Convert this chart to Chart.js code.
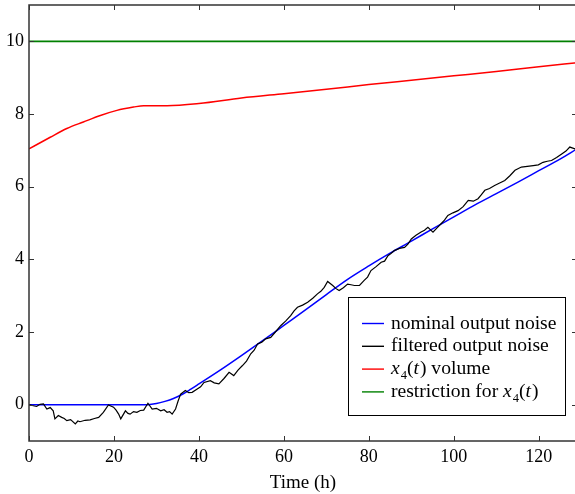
<!DOCTYPE html>
<html lang="en">
<head>
  <meta charset="UTF-8">
  <title>Output noise and volume x4(t)</title>
  <style>
    body { margin: 0; overflow: hidden; background: #fff; }
    .wrap { width: 577px; height: 494px; position: relative; }
  </style>
  <script src="https://cdn.jsdelivr.net/npm/chart.js@4.4.1/dist/chart.umd.min.js"></script>
</head>
<body>
  <div class="wrap"><canvas id="myChart"></canvas></div>
  <script>
    // axis ticks
    const xTicks = [0, 20, 40, 60, 80, 100, 120];
    const yTicks = [0, 2, 4, 6, 8, 10];

    // nominal output noise (blue)
    const tNominal = [0, 28, 30, 32, 34, 36, 38, 40, 45, 50, 55, 60, 65, 70, 75, 80, 85, 90, 95, 100, 105, 110, 115, 120, 125, 129];
    const vNominal = [0, 0, 0.03, 0.09, 0.17, 0.28, 0.42, 0.57, 0.95, 1.35, 1.76, 2.18, 2.6, 3.03, 3.45, 3.82, 4.17, 4.5, 4.84, 5.17, 5.5, 5.81, 6.12, 6.44, 6.76, 7.04];

    // filtered output noise (black)
    const tFiltered = [0, 1, 1.8, 2.6, 3.4, 4.2, 5.0, 5.7, 6.1, 6.9, 7.7, 8.3, 8.9, 9.8, 10.9, 11.5, 12, 13.2, 14.4, 15.4, 16.4, 17.5, 18.7, 19.9, 20.5, 21.1, 21.6, 22.7, 23.3, 23.8, 24.6, 25.4, 26.2, 27, 28, 29, 30, 31, 31.8, 32.5, 33.1, 33.7, 34.5, 35.1, 35.7, 36.8, 37.6, 38.4, 39.6, 40.4, 41.2, 42.7, 43.6, 44.7, 45.9, 47.1, 48.2, 49.2, 50.2, 51.2, 52.2, 53, 53.8, 54.8, 55.7, 56.9, 58, 59.3, 60.4, 61.6, 62.4, 63.2, 64.4, 65.6, 66.8, 67.9, 68.7, 69.5, 70.3, 71.5, 72.2, 73, 74, 75, 75.8, 76.6, 77.8, 78.9, 79.7, 80.5, 81.7, 82.9, 83.7, 84.5, 85.2, 86, 87.2, 88.4, 89.2, 90, 91.1, 92.3, 93.1, 93.9, 95.1, 96, 97, 97.8, 98.6, 99.8, 101, 102.2, 103.4, 104.6, 105.7, 106.5, 107.3, 108.4, 109.6, 110.8, 112, 113.2, 114.4, 115.9, 117.3, 118.7, 119.9, 121, 122, 123, 124.2, 125.4, 126.4, 127.3, 128.5, 129];
    const vFiltered = [0, -0.03, -0.05, 0.01, 0.02, -0.12, -0.08, -0.17, -0.39, -0.3, -0.35, -0.38, -0.44, -0.41, -0.53, -0.45, -0.47, -0.43, -0.42, -0.38, -0.35, -0.21, -0.01, -0.07, -0.15, -0.26, -0.39, -0.17, -0.24, -0.26, -0.19, -0.21, -0.16, -0.15, 0.04, -0.12, -0.1, -0.17, -0.14, -0.21, -0.19, -0.26, -0.12, 0.1, 0.29, 0.39, 0.33, 0.34, 0.43, 0.49, 0.61, 0.66, 0.6, 0.57, 0.72, 0.89, 0.8, 0.95, 1.07, 1.2, 1.4, 1.5, 1.67, 1.72, 1.81, 1.85, 2.0, 2.18, 2.3, 2.45, 2.58, 2.68, 2.74, 2.82, 2.93, 3.05, 3.12, 3.23, 3.39, 3.28, 3.2, 3.14, 3.22, 3.32, 3.3, 3.28, 3.28, 3.42, 3.51, 3.69, 3.8, 3.92, 3.95, 4.1, 4.16, 4.24, 4.3, 4.33, 4.42, 4.56, 4.66, 4.75, 4.8, 4.88, 4.75, 4.86, 4.98, 5.08, 5.21, 5.28, 5.34, 5.45, 5.62, 5.6, 5.67, 5.78, 5.9, 5.95, 6.03, 6.1, 6.17, 6.3, 6.45, 6.54, 6.56, 6.58, 6.6, 6.67, 6.7, 6.72, 6.8, 6.9, 6.98, 7.09, 7.04, 7.06];

    // x4(t) volume (red)
    const tVolume = [0, 5, 8.9, 12.8, 16.8, 20.7, 24.6, 27, 32.5, 40, 50, 60, 70, 80, 90, 100, 110, 120, 129];
    const vVolume = [7.04, 7.36, 7.6, 7.78, 7.96, 8.1, 8.19, 8.23, 8.23, 8.29, 8.44, 8.56, 8.68, 8.81, 8.93, 9.05, 9.17, 9.3, 9.41];

    // restriction for x4(t) (green)
    const tLimit = [0, 129];
    const vLimit = [10, 10];

    // legend label pieces: n = normal, i = italic, s = subscript
    const legendParts = [
      [['nominal output noise', 'n']],
      [['filtered output noise', 'n']],
      [['x', 'i'], ['4', 's'], ['(', 'n'], ['t', 'i'], [') volume', 'n']],
      [['restriction for ', 'n'], ['x', 'i'], ['4', 's'], ['(', 'n'], ['t', 'i'], [')', 'n']]
    ];

    const FONT = '"Liberation Serif", "Times New Roman", serif';
    const toXY = (ts, vs) => ts.map((t, i) => ({ x: t, y: vs[i] }));

    // frame with inward ticks and a boxed legend inside the plot
    const framePlugin = {
      id: 'framePlugin',
      afterDatasetsDraw(chart) {
        const { ctx, chartArea: a, scales: { x, y } } = chart;
        ctx.save();
        ctx.strokeStyle = '#333';
        ctx.lineWidth = 1.5;
        ctx.strokeRect(a.left, a.top, a.right - a.left, a.bottom - a.top);
        ctx.beginPath();
        xTicks.forEach(v => {
          const px = Math.round(x.getPixelForValue(v)) + 0.5;
          ctx.moveTo(px, a.bottom); ctx.lineTo(px, a.bottom - 5);
          ctx.moveTo(px, a.top); ctx.lineTo(px, a.top + 5);
        });
        yTicks.forEach(v => {
          const py = Math.round(y.getPixelForValue(v)) + 0.5;
          ctx.moveTo(a.left, py); ctx.lineTo(a.left + 5, py);
          ctx.moveTo(a.right, py); ctx.lineTo(a.right - 5, py);
        });
        ctx.lineWidth = 1;
        ctx.stroke();

        // legend box
        const bx = 348.5, by = 297.5, bw = 217, bh = 118;
        ctx.fillStyle = '#fff';
        ctx.fillRect(bx, by, bw, bh);
        ctx.strokeStyle = '#000';
        ctx.lineWidth = 1;
        ctx.strokeRect(bx, by, bw, bh);
        chart.data.datasets.forEach((ds, i) => {
          const cy = 323.5 + i * 22.8;
          ctx.strokeStyle = ds.borderColor;
          ctx.lineWidth = 1.4;
          ctx.beginPath();
          ctx.moveTo(362, cy); ctx.lineTo(384, cy);
          ctx.stroke();
          let tx = 391;
          ctx.fillStyle = '#000';
          ctx.textBaseline = 'alphabetic';
          legendParts[i].forEach(([txt, st]) => {
            let size = 19.6, dy = 5, style = '';
            if (st === 'i') style = 'italic ';
            if (st === 's') { size = 12.5; dy = 10; }
            ctx.font = style + size + 'px ' + FONT;
            ctx.fillText(txt, tx, cy + dy);
            tx += ctx.measureText(txt).width + (st === 'i' ? 1 : 0);
          });
        });
        ctx.restore();
      }
    };

    const ctx = document.getElementById('myChart').getContext('2d');
    const myChart = new Chart(ctx, {
      type: 'line',
      data: {
        datasets: [
          {
            label: 'nominal output noise',
            data: toXY(tNominal, vNominal),
            borderColor: '#0000ff',
            borderWidth: 1.5,
            cubicInterpolationMode: 'monotone',
            order: 1
          },
          {
            label: 'filtered output noise',
            data: toXY(tFiltered, vFiltered),
            borderColor: '#000000',
            borderWidth: 1.2,
            tension: 0,
            order: 0
          },
          {
            label: 'x4(t) volume',
            data: toXY(tVolume, vVolume),
            borderColor: '#ff0000',
            borderWidth: 1.5,
            cubicInterpolationMode: 'monotone',
            order: 2
          },
          {
            label: 'restriction for x4(t)',
            data: toXY(tLimit, vLimit),
            borderColor: '#008000',
            borderWidth: 1.8,
            order: 3
          }
        ]
      },
      options: {
        responsive: true,
        maintainAspectRatio: false,
        animation: false,
        events: [],
        elements: { point: { radius: 0 } },
        layout: { padding: { top: 5, right: 0, left: 0, bottom: 0 } },
        plugins: { legend: { display: false }, tooltip: { enabled: false } },
        scales: {
          x: {
            type: 'linear',
            min: 0,
            max: 129,
            grid: { display: false, drawTicks: false },
            border: { display: false },
            afterBuildTicks: s => { s.ticks = xTicks.map(v => ({ value: v })); },
            afterFit: s => { s.height = 53; s.paddingLeft = 0; s.paddingRight = 0; },
            ticks: { color: '#000', padding: 5, maxRotation: 0, font: { family: FONT, size: 18 } },
            title: { display: true, text: 'Time (h)', color: '#000', padding: { top: 0, bottom: 0 }, font: { family: FONT, size: 19 } }
          },
          y: {
            type: 'linear',
            min: -1,
            max: 11,
            grid: { display: false, drawTicks: false },
            border: { display: false },
            afterBuildTicks: s => { s.ticks = yTicks.map(v => ({ value: v })); },
            afterFit: s => { s.width = 29; s.paddingTop = 0; s.paddingBottom = 0; },
            ticks: { color: '#000', padding: 5, font: { family: FONT, size: 18 } }
          }
        }
      },
      plugins: [framePlugin]
    });
  </script>
</body>
</html>
